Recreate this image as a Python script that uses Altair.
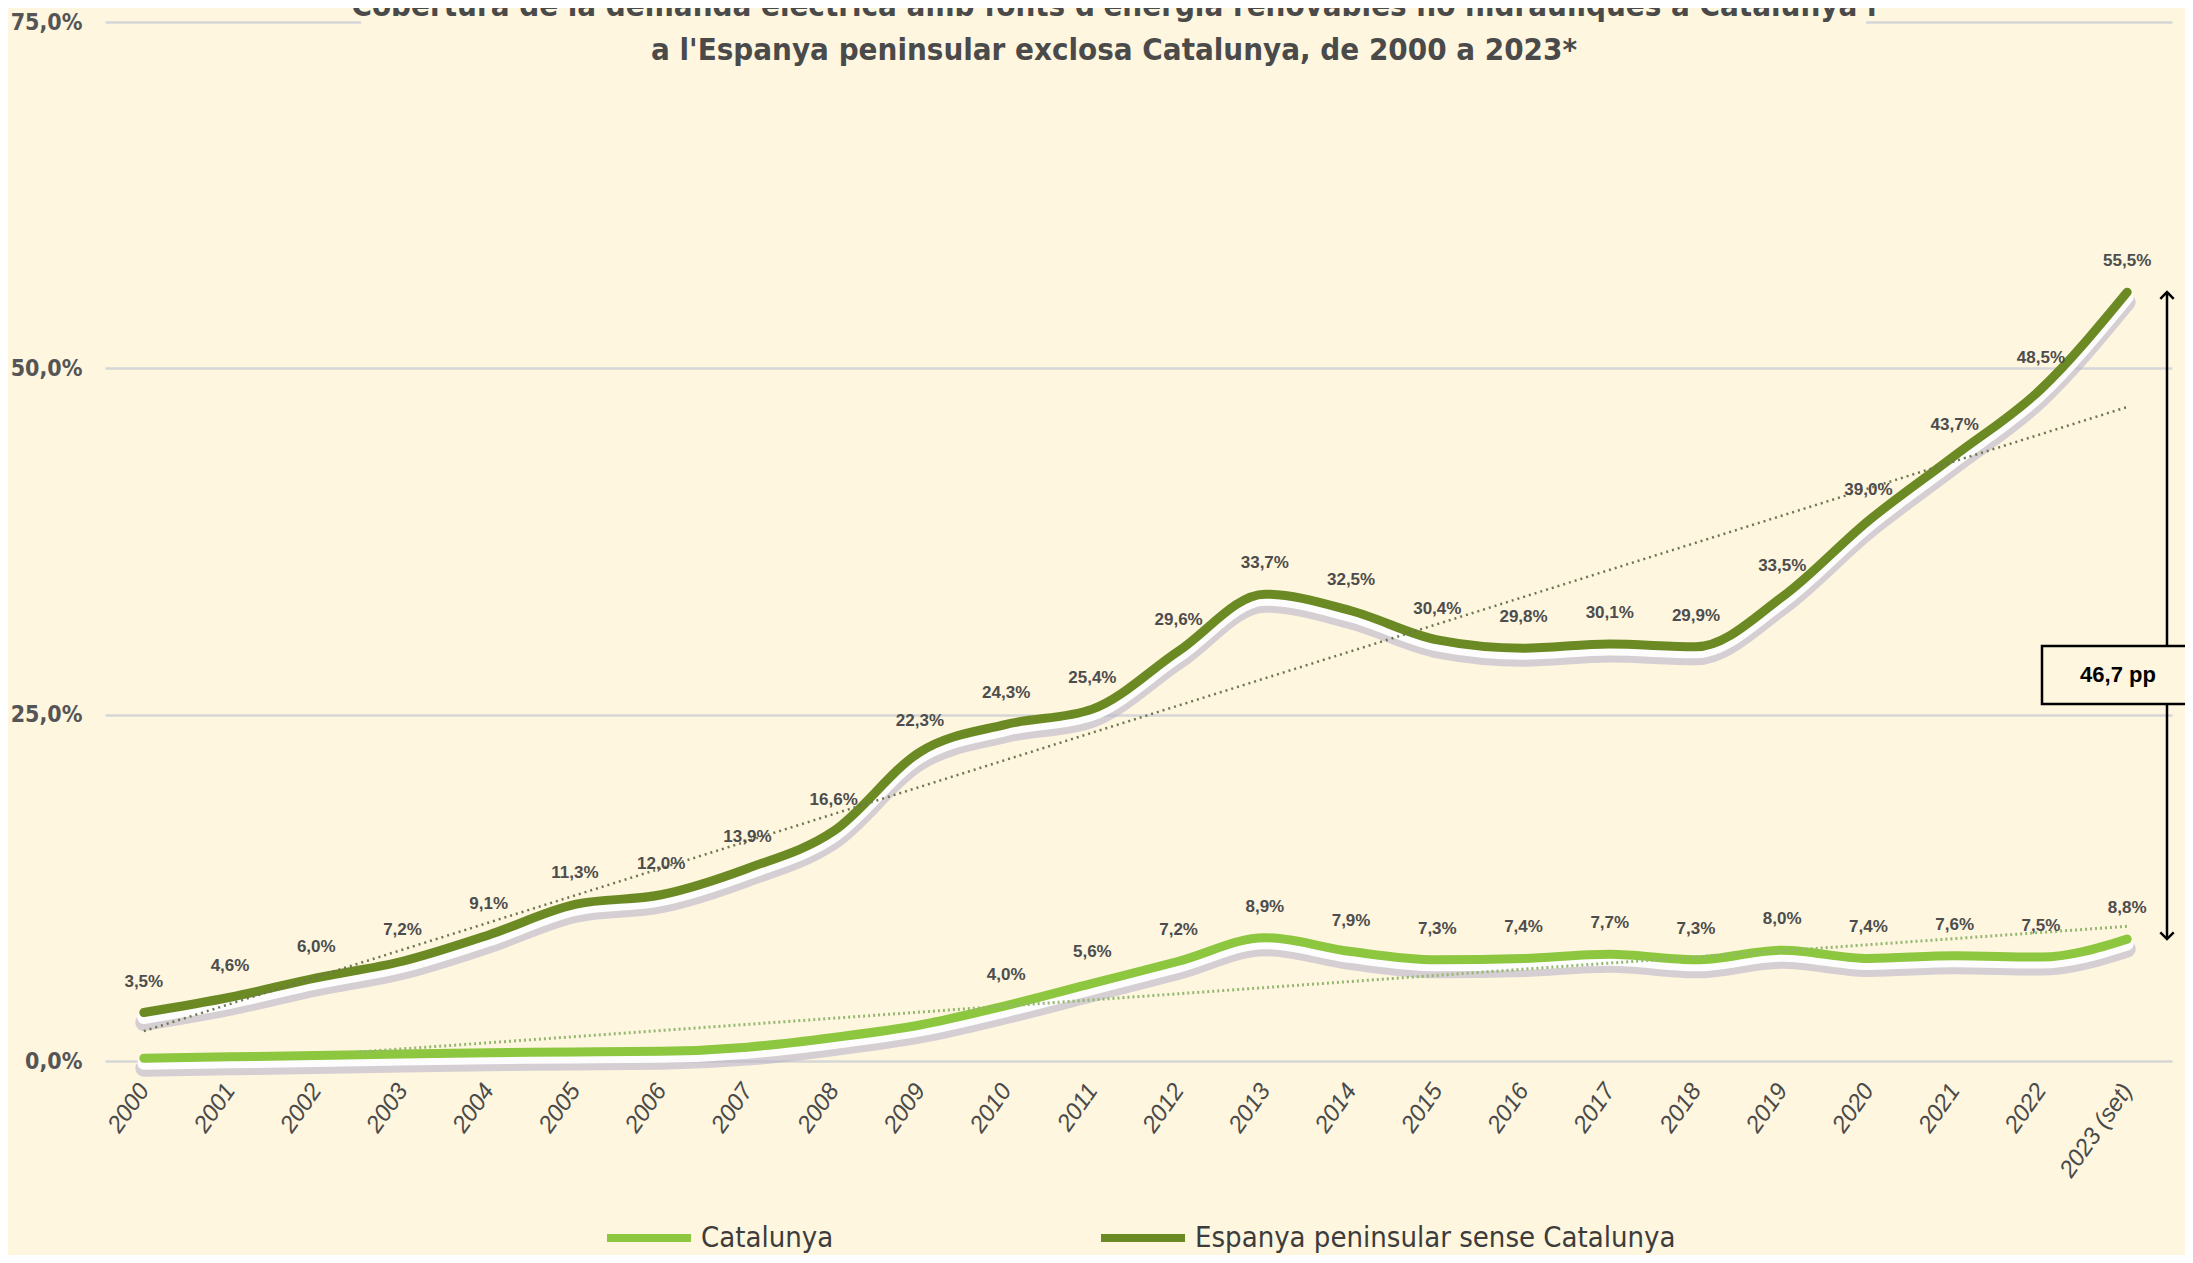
import altair as alt
import pandas as pd

# ---------------- data ----------------
years = list(range(2000, 2024))
year_labels = [str(y) for y in range(2000, 2023)] + ["2023 (set)"]
catalunya = [0.2, 0.3, 0.4, 0.5, 0.6, 0.65, 0.7, 1.0, 1.7, 2.6,
             4.0, 5.6, 7.2, 8.9, 7.9, 7.3, 7.4, 7.7, 7.3, 8.0, 7.4, 7.6, 7.5, 8.8]
espanya = [3.5, 4.6, 6.0, 7.2, 9.1, 11.3, 12.0, 13.9, 16.6, 22.3,
           24.3, 25.4, 29.6, 33.7, 32.5, 30.4, 29.8, 30.1, 29.9, 33.5, 39.0, 43.7, 48.5, 55.5]
series_names = ["Catalunya", "Espanya peninsular sense Catalunya"]
series_colors = ["#8dc63f", "#6b8a24"]
cat_label_from = 2010
title_lines = [
    "Cobertura de la demanda elèctrica amb fonts d'energia renovables no hidràuliques a Catalunya i",
    "a l'Espanya peninsular exclosa Catalunya, de 2000 a 2023*",
]
y_ticks = [0, 25, 50, 75]

# ---------------- styling ----------------
BG = "#fef6df"
COND = "DejaVu Sans Condensed, DejaVu Sans, Liberation Sans"
SANS = "Liberation Sans, Arial, sans-serif"
W, H = 2067, 1039

rows = []
for i, yr in enumerate(years):
    rows.append({"year": yr, "value": catalunya[i], "series": series_names[0]})
    rows.append({"year": yr, "value": espanya[i], "series": series_names[1]})
df = pd.DataFrame(rows)

diff_df = pd.DataFrame({"top": [espanya[-1]], "bottom": [catalunya[-1]]})

x_scale = alt.Scale(domain=[1999.55, 2023.52], nice=False, zero=False)
y_scale = alt.Scale(domain=[0, 75], nice=False)

x_enc = alt.X(
    "year:Q",
    scale=x_scale,
    axis=alt.Axis(
        values=years,
        labelExpr="[" + ",".join("'" + s + "'" for s in year_labels) + "][datum.value - 2000]",
        labelAngle=-55, labelAlign="right", labelBaseline="middle",
        labelFont=SANS, labelFontStyle="italic", labelFontSize=24, labelColor="#4a4a4a",
        labelPadding=25, ticks=False, domain=False, grid=False, title=None,
    ),
)
y_enc = alt.Y(
    "value:Q",
    scale=y_scale,
    axis=alt.Axis(
        values=y_ticks,
        labelExpr="replace(format(datum.value, '.1f'), '.', ',') + '%'",
        labelFont=COND, labelFontWeight="bold", labelFontSize=23, labelColor="#555555",
        labelPadding=23, ticks=False, domain=False, grid=True,
        gridColor="#d6d6d6", gridWidth=2.5, title=None,
    ),
)

base = alt.Chart(df).encode(x=x_enc, y=y_enc)

shadow = base.mark_line(interpolate="monotone", strokeWidth=17, color="#b9b4ca",
                        opacity=0.6, yOffset=10, strokeCap="round").encode(detail="series:N")
glow = base.mark_line(interpolate="monotone", strokeWidth=13, color="#ffffff",
                      opacity=0.95, yOffset=5, strokeCap="round").encode(detail="series:N")
main = base.mark_line(interpolate="monotone", strokeWidth=9, strokeCap="round").encode(
    color=alt.Color(
        "series:N",
        scale=alt.Scale(domain=series_names, range=series_colors),
        legend=alt.Legend(
            title=None, orient="none", legendX=498, legendY=1170,
            direction="horizontal", symbolType="stroke", symbolSize=7056,
            symbolStrokeWidth=8, labelFont=COND, labelFontSize=29,
            labelColor="#3c3c3c", columnPadding=251, labelOffset=6, labelLimit=900,
        ),
    )
)

trend_esp = (
    alt.Chart(df)
    .transform_filter(alt.datum.series == series_names[1])
    .transform_regression("year", "value", extent=[2000, 2023])
    .mark_line(strokeDash=[2, 4], strokeWidth=2.5, color="#6c7750")
    .encode(x=alt.X("year:Q", scale=x_scale), y=alt.Y("value:Q", scale=y_scale))
)
trend_cat = (
    alt.Chart(df)
    .transform_filter(alt.datum.series == series_names[0])
    .transform_regression("year", "value", extent=[2002.5, 2023])
    .mark_line(strokeDash=[2, 3], strokeWidth=3, color="#94b870")
    .encode(x=alt.X("year:Q", scale=x_scale), y=alt.Y("value:Q", scale=y_scale))
)

labels = (
    base.transform_filter(
        (alt.datum.series == series_names[1]) | (alt.datum.year >= cat_label_from)
    )
    .transform_calculate(label="replace(format(datum.value, '.1f'), '.', ',') + '%'")
    .mark_text(font=SANS, fontWeight="bold", fontSize=17, color="#4d4d4d", dy=-31)
    .encode(text="label:N")
)

# difference arrow
arrow_x = 2062
arrow = alt.Chart(diff_df).mark_rule(color="#000000", strokeWidth=2.5).encode(
    x=alt.value(arrow_x), y=alt.Y("top:Q", scale=y_scale), y2="bottom:Q"
)
head_up = alt.Chart(diff_df).mark_point(
    shape="M -1 1 L 0 0 L 1 1", filled=False, color="#000000", strokeWidth=2.5, size=180, opacity=1
).encode(x=alt.value(arrow_x), y=alt.Y("top:Q", scale=y_scale))
head_down = alt.Chart(diff_df).mark_point(
    shape="M -1 -1 L 0 0 L 1 -1", filled=False, color="#000000", strokeWidth=2.5, size=180, opacity=1
).encode(x=alt.value(arrow_x), y=alt.Y("bottom:Q", scale=y_scale))
box = alt.Chart(diff_df).mark_rect(fill=BG, stroke="#000000", strokeWidth=2.5).encode(
    x=alt.value(1937), x2=alt.value(2110), y=alt.value(624), y2=alt.value(682)
)
box_text = (
    alt.Chart(diff_df)
    .transform_calculate(t="replace(format(datum.top - datum.bottom, '.1f'), '.', ',') + ' pp'")
    .mark_text(font=SANS, fontWeight="bold", fontSize=22, color="#000000")
    .encode(x=alt.value(2013), y=alt.value(653), text="t:N")
)

# title (drawn over the top gridline)
title_bg = alt.Chart(diff_df).mark_rect(fill=BG).encode(
    x=alt.value(256), x2=alt.value(1761), y=alt.value(-22), y2=alt.value(44)
)
title_layers = []
for line, ypix in zip(title_lines, [-6, 38]):
    title_layers.append(
        alt.Chart(diff_df)
        .mark_text(font=COND, fontWeight="bold", fontSize=31, color="#4a4a4a",
                   baseline="alphabetic", align="center", text=line)
        .encode(x=alt.value(1009), y=alt.value(ypix))
    )

chart = (
    alt.layer(shadow, glow, main, trend_esp, trend_cat, labels,
              arrow, head_up, head_down, box, box_text, title_bg, *title_layers)
    .properties(
        width=W, height=H,
        autosize=alt.AutoSizeParams(type="none"),
        padding={"left": 97, "top": 14, "right": 13, "bottom": 194},
        background=BG,
    )
    .configure_view(stroke=None)
)

chart.save("out.html", embed_options={"renderer": "svg", "actions": False})
